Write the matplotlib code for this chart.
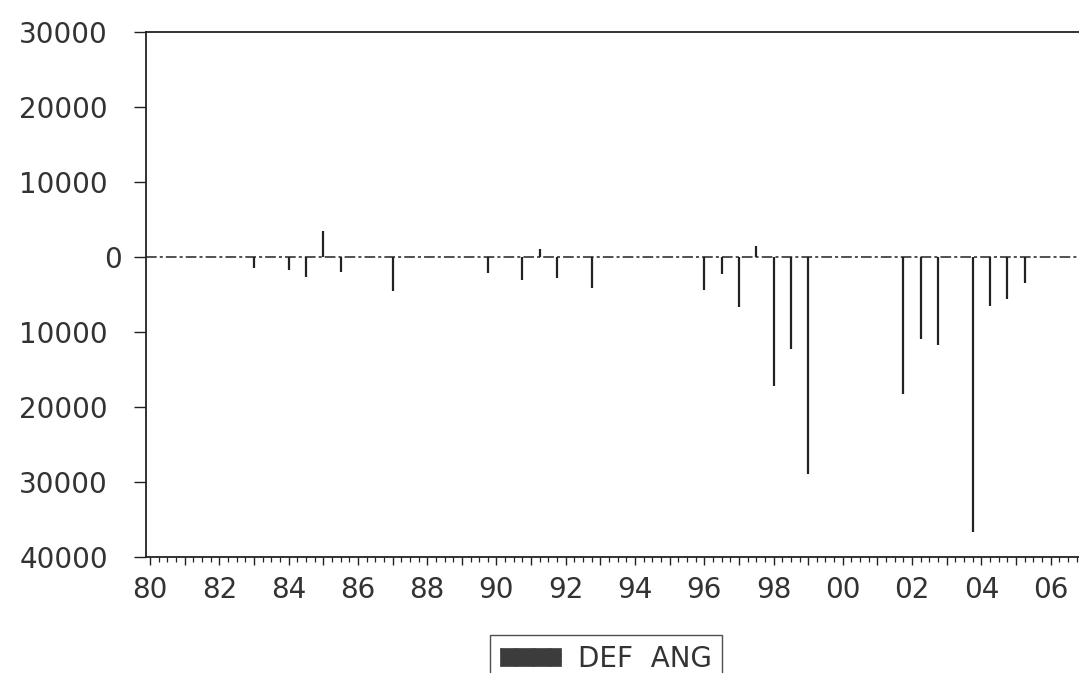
import matplotlib
matplotlib.use("Agg")
import matplotlib.pyplot as plt
import matplotlib.transforms as mtransforms
from matplotlib.patches import Patch
from matplotlib.ticker import FixedLocator, MultipleLocator

periods = ["1983Q1", "1984Q1", "1984Q3", "1985Q1", "1985Q3", "1987Q1",
           "1989Q4", "1990Q4", "1991Q2", "1991Q4", "1992Q4",
           "1996Q1", "1996Q3", "1997Q1", "1997Q3", "1998Q1", "1998Q3", "1999Q1",
           "2001Q4", "2002Q2", "2002Q4", "2003Q4", "2004Q2", "2004Q4", "2005Q2"]
def_ang = [-1500, -1800, -2700, 3400, -1950, -4600,
           -2100, -3100, 1100, -2800, -4100,
           -4400, -2300, -6700, 1400, -17200, -12300, -28900,
           -18300, -10900, -11700, -36700, -6600, -5600, -3500]
series_name = "DEF  ANG"
y_ticks = [30000, 20000, 10000, 0, -10000, -20000, -30000, -40000]
y_tick_labels = ["30000", "20000", "10000", "0", "10000", "20000", "30000", "40000"]
x_years = list(range(1980, 2007))
x_tick_labels = [f"{y % 100:02d}" if y % 2 == 0 else "" for y in x_years]

def to_pos(p):
    yr, q = p.split("Q")
    return int(yr) + (int(q) - 1) / 4.0

xpos = [to_pos(p) for p in periods]

W, H = 1079, 673
fig = plt.figure(figsize=(W / 100, H / 100), dpi=100)
fig.patch.set_facecolor("white")
ax = fig.add_axes([146 / W, 1 - 557 / H, (W - 146) / W, (557 - 32) / H])

ink = "#222222"
txt = "#333333"
fs = 20

ax.vlines(xpos, 0, def_ang, colors=ink, linewidth=1.6, zorder=3)
ax.axhline(0, color=ink, lw=1.1, ls=(0, (7, 2, 2, 2)), zorder=2)

ax.set_xlim(1979.88, 2006.82)
ax.set_ylim(-40000, 30000)

ax.yaxis.set_major_locator(FixedLocator(y_ticks))
ax.set_yticklabels(y_tick_labels, fontsize=fs, color=txt, family="DejaVu Sans")
ax.set_xticks(x_years)
ax.set_xticklabels(x_tick_labels, fontsize=fs, color=txt, family="DejaVu Sans")
ax.xaxis.set_minor_locator(MultipleLocator(0.25))

ax.tick_params(axis="y", direction="out", length=8.5, width=1.0, pad=19, colors=ink, labelcolor=txt)
ax.tick_params(axis="x", which="major", direction="out", length=5.5, width=1.0, pad=8, colors=ink, labelcolor=txt)
ax.tick_params(axis="x", which="minor", direction="out", length=3.5, width=0.9, colors=ink)

# the "0" label sits a little further right in the original
for lab in ax.get_yticklabels():
    if lab.get_text() == "0":
        lab.set_transform(lab.get_transform() +
                          mtransforms.ScaledTranslation(14 / 100, 0, fig.dpi_scale_trans))

for s in ["left", "top", "bottom"]:
    ax.spines[s].set_color(ink)
    ax.spines[s].set_linewidth(1.3)
ax.spines["right"].set_visible(False)

handle = Patch(facecolor="#3c3c3c", edgecolor="#3c3c3c", hatch="xx", linewidth=0.5)
leg = fig.legend([handle], [series_name], loc="upper center",
                 bbox_to_anchor=(606 / W, 1 - 635 / H), frameon=True, fancybox=False,
                 edgecolor=ink, fontsize=fs, handlelength=2.2, handleheight=0.62,
                 handletextpad=0.6, borderpad=0.35, borderaxespad=0.0)
leg.get_frame().set_linewidth(1.0)
for t in leg.get_texts():
    t.set_color(txt)

fig.savefig("out.png", dpi=100, facecolor="white")
